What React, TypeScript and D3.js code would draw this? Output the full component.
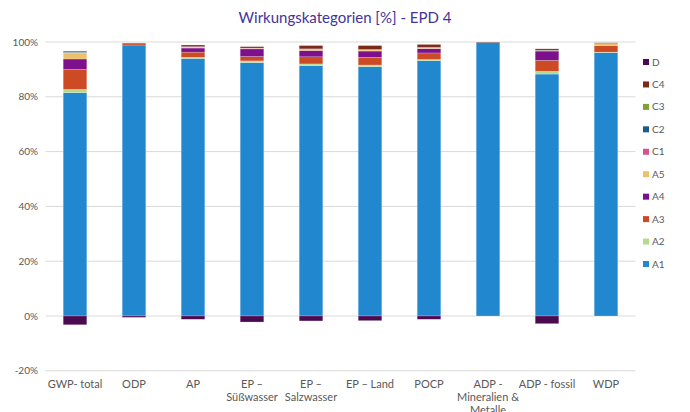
import * as d3 from "d3";
import React from "react";

const categories = [
  "GWP- total",
  "ODP",
  "AP",
  "EP – Süßwasser",
  "EP – Salzwasser",
  "EP – Land",
  "POCP",
  "ADP - Mineralien & Metalle",
  "ADP - fossil",
  "WDP",
];

// shares per life-cycle module, in % of each category
const A1 = [81.5, 98.9, 94.0, 92.5, 91.4, 91.0, 93.2, 99.8, 88.3, 96.1];
const A2 = [1.2, 0, 0.4, 0.6, 0.6, 0.6, 0.4, 0, 1.0, 0.2];
const A3 = [7.3, 0.7, 1.9, 1.6, 2.6, 2.8, 2.4, 0, 4.0, 2.4];
const A4 = [3.8, 0, 1.5, 2.8, 2.3, 2.3, 1.6, 0, 3.4, 0];
const A5 = [2.2, 0, 0.3, 0.2, 0.4, 0.4, 0.2, 0, 0.1, 0.7];
const C1 = [0.1, 0, 0.1, 0.1, 0.1, 0.1, 0.2, 0, 0.1, 0];
const C2 = [0.2, 0, 0.1, 0, 0.1, 0.1, 0.1, 0, 0.1, 0.1];
const C3 = [0.1, 0, 0, 0, 0, 0, 0, 0, 0, 0];
const C4 = [0.3, 0, 0.6, 0.5, 1.2, 1.4, 1.0, 0.2, 0.5, 0.2];
const D = [-3.2, -0.5, -1.2, -2.2, -1.8, -1.7, -1.2, 0, -2.8, 0];

const modules = ["A1", "A2", "A3", "A4", "A5", "C1", "C2", "C3", "C4", "D"];
const series = [A1, A2, A3, A4, A5, C1, C2, C3, C4, D];
const colors = [
  "#2188D0",
  "#B7D98C",
  "#CC4B25",
  "#7D108C",
  "#EDC06E",
  "#D9538A",
  "#1B5A8A",
  "#7FA035",
  "#7B2A1A",
  "#4A0A50",
];

const yTicks = [-20, 0, 20, 40, 60, 80, 100];

const FONT = "Lato, 'Open Sans', sans-serif";

function wrapLabel(text: string, maxWidth: number): string[] {
  const ctx = document.createElement("canvas").getContext("2d")!;
  ctx.font = `11px ${FONT}`;
  const words = text.split(" ");
  const lines: string[] = [];
  let line = "";
  for (const w of words) {
    const next = line ? line + " " + w : w;
    if (line && ctx.measureText(next).width > maxWidth) {
      lines.push(line);
      line = w;
    } else {
      line = next;
    }
  }
  if (line) lines.push(line);
  return lines;
}

export default function App() {
  const width = 690;
  const height = 412;
  const margin = { top: 42, right: 54.5, bottom: 41.2, left: 45.5 };

  const x = d3
    .scaleBand()
    .domain(categories)
    .range([margin.left, width - margin.right])
    .paddingInner(0.6)
    .paddingOuter(0.3);

  const y = d3
    .scaleLinear()
    .domain([-20, 100])
    .range([height - margin.bottom, margin.top]);

  const rows = categories.map((c, i) => {
    const row: Record<string, number | string> = { cat: c };
    modules.forEach((m, k) => (row[m] = series[k][i]));
    return row;
  });

  const stacked = d3
    .stack<Record<string, number | string>>()
    .keys(modules)
    .value((d, key) => d[key] as number)
    .offset(d3.stackOffsetDiverging)(rows);

  const legendY = d3
    .scalePoint()
    .domain([...modules].reverse())
    .range([62, 264]);

  return (
    <svg
      width={width}
      height={height}
      style={{ position: "absolute", left: 0, top: 0, background: "#fff" }}
      fontFamily={FONT}
    >
      <text
        x={345}
        y={23}
        textAnchor="middle"
        fontSize={15}
        fill="#43339A"
      >
        Wirkungskategorien [%] - EPD 4
      </text>

      {yTicks.map((t) => (
        <g key={t}>
          <line
            x1={margin.left}
            x2={width - margin.right}
            y1={y(t)}
            y2={y(t)}
            stroke="#D9D9D9"
            strokeWidth={1}
          />
          <text
            x={38}
            y={y(t)}
            dy="0.35em"
            textAnchor="end"
            fontSize={10}
            fill="#595959"
          >
            {t}%
          </text>
        </g>
      ))}

      {stacked.map((s, k) => (
        <g key={s.key} fill={colors[k]}>
          {s.map((d, i) => {
            const y0 = y(Math.max(d[0], d[1]));
            const y1 = y(Math.min(d[0], d[1]));
            if (y1 - y0 <= 0) return null;
            return (
              <rect
                key={i}
                x={x(categories[i])!}
                width={x.bandwidth()}
                y={y0}
                height={y1 - y0}
                stroke="#ffffff"
                strokeOpacity={0.35}
                strokeWidth={0.6}
              />
            );
          })}
        </g>
      ))}

      {categories.map((c) => {
        const lines = wrapLabel(c, 64);
        const cx = x(c)! + x.bandwidth() / 2;
        return (
          <text
            key={c}
            x={cx}
            y={388}
            textAnchor="middle"
            fontSize={11}
            fill="#595959"
          >
            {lines.map((l, j) => (
              <tspan key={j} x={cx} dy={j === 0 ? 0 : 13}>
                {l}
              </tspan>
            ))}
          </text>
        );
      })}

      {modules.map((m, k) => (
        <g key={m} transform={`translate(643,${legendY(m)})`}>
          <rect x={0} y={-3} width={6} height={6} fill={colors[k]} />
          <text x={9} y={0} dy="0.35em" fontSize={10} fill="#595959">
            {m}
          </text>
        </g>
      ))}
    </svg>
  );
}
